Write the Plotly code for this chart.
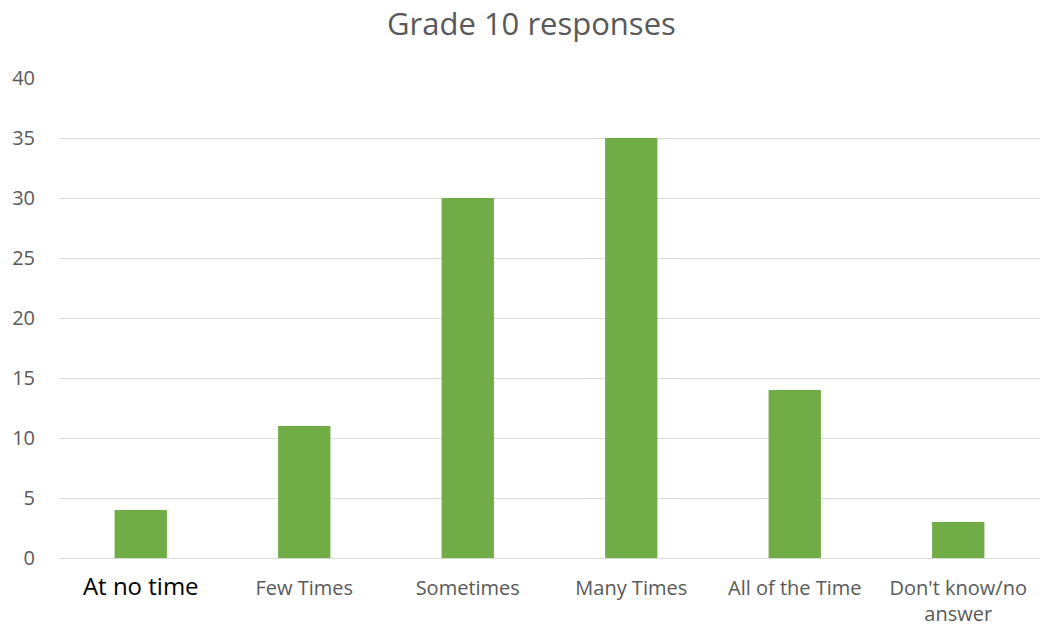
import plotly.graph_objects as go

categories = ["At no time", "Few Times", "Sometimes", "Many Times", "All of the Time", "Don't know/no answer"]
values = [4, 11, 30, 35, 14, 3]
tick_labels = [
    '<span style="color:#000000;font-size:24px">At no time</span>',
    "Few Times",
    "Sometimes",
    "Many Times",
    "All of the Time",
    "Don't know/no<br>answer",
]
y_ticks = [0, 5, 10, 15, 20, 25, 30, 35, 40]

fig = go.Figure(go.Bar(x=categories, y=values, marker=dict(color="#70AD47", line=dict(width=0))))

fig.update_layout(
    width=1040, height=627,
    margin=dict(l=59, r=0, t=78, b=69),
    paper_bgcolor="white", plot_bgcolor="white",
    font=dict(family="Open Sans, sans-serif", color="#595959", size=20),
    title=dict(text="Grade 10 responses", x=0.511, xanchor="center", y=0.962, yanchor="middle",
               font=dict(size=31, color="#595959")),
    bargap=0.68,
    showlegend=False,
    xaxis=dict(tickmode="array", tickvals=categories, ticktext=tick_labels,
               showline=True, linecolor="#D9D9D9", linewidth=1, showgrid=False,
               ticks="outside", ticklen=12, tickcolor="rgba(0,0,0,0)",
               tickfont=dict(size=20, color="#595959")),
    yaxis=dict(range=[0, 40], tickmode="array", tickvals=y_ticks, showgrid=True,
               gridcolor="#D9D9D9", gridwidth=1, zeroline=False, showline=False,
               ticks="outside", ticklen=19, tickcolor="rgba(0,0,0,0)",
               tickfont=dict(size=20, color="#595959")),
)

fig.write_html("out.html", config={"displayModeBar": False},
               post_script="document.body.style.margin='0';")
